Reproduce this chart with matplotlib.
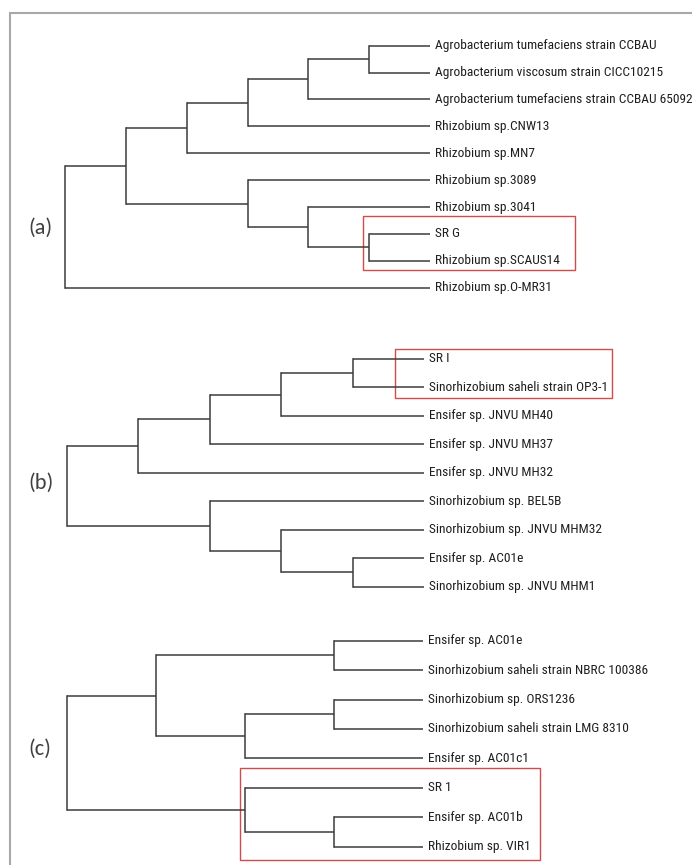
import matplotlib
matplotlib.use("Agg")
import matplotlib.pyplot as plt
from matplotlib import font_manager
from matplotlib.patches import Rectangle
from matplotlib.textpath import TextPath
import matplotlib.transforms as mtransforms

# leaf names, top to bottom
leaves_a = ['Agrobacterium tumefaciens strain CCBAU',
            'Agrobacterium viscosum strain CICC10215',
            'Agrobacterium tumefaciens strain CCBAU 65092',
            'Rhizobium sp.CNW13',
            'Rhizobium sp.MN7',
            'Rhizobium sp.3089',
            'Rhizobium sp.3041',
            'SR G',
            'Rhizobium sp.SCAUS14',
            'Rhizobium sp.O-MR31']
leaves_b = ['SR I',
            'Sinorhizobium saheli strain OP3-1',
            'Ensifer sp. JNVU MH40',
            'Ensifer sp. JNVU MH37',
            'Ensifer sp. JNVU MH32',
            'Sinorhizobium sp. BEL5B',
            'Sinorhizobium sp. JNVU MHM32',
            'Ensifer sp. AC01e',
            'Sinorhizobium sp. JNVU MHM1']
leaves_c = ['Ensifer sp. AC01e',
            'Sinorhizobium saheli strain NBRC 100386',
            'Sinorhizobium sp. ORS1236',
            'Sinorhizobium saheli strain LMG 8310',
            'Ensifer sp. AC01c1',
            'SR 1',
            'Ensifer sp. AC01b',
            'Rhizobium sp. VIR1']

# internal nodes: (node level, [children]); ints are leaf indices
tree_a = (0, [(1, [(2, [(3, [(4, [(5, [0, 1]), 2]), 3]), 4]),
                   (3, [5, (4, [6, (5, [7, 8])])])]), 9])
tree_b = (0, [(1, [(2, [(3, [(4, [0, 1]), 2]), 3]), 4]),
              (2, [5, (3, [6, (4, [7, 8])])])])
tree_c = (0, [(1, [(3, [0, 1]), (2, [(3, [2, 3]), 4])]),
              (2, [5, (3, [6, 7])])])
leaf_level = [6, 5, 4]

# highlighted boxes (x0, x1 in levels; y0, y1 in leaf rows)
box_a = [4.9, 8.38, 6.33, 8.36]
box_b = [4.6, 7.63, -0.36, 1.36]
box_c = [1.94, 5.31, 4.34, 7.45]
panel_tags = ['(a)', '(b)', '(c)']

W, H = 692, 865
# pixel layout per panel: root x, leaf x, first row y, last row y
layout = [(65, 430, 45.7, 287.7),
          (67, 424, 359.0, 586.7),
          (67, 423, 640.7, 846.7)]
tag_pos = [(40, 228), (40.6, 483), (39.7, 749)]

# the original uses a narrow Arial: a long name is ~218 px wide, caps ~10 px tall
PROBE = 'Sinorhizobium saheli strain NBRC 100386'
TARGET_W, TARGET_CAP = 218.0, 10.0

fig = plt.figure(figsize=(W / 100, H / 100), dpi=100)
fig.patch.set_facecolor('white')
renderer = fig.canvas.get_renderer()

sans = {'Liberation Sans Narrow', 'Arial Narrow', 'Roboto Condensed', 'Noto Sans',
        'Open Sans', 'Roboto', 'DejaVu Sans', 'Liberation Sans', 'Lato', 'Inter'}
best = None
for f in font_manager.fontManager.ttflist:
    if f.name not in sans or f.style != 'normal' or f.weight not in (400, 'normal', 'regular'):
        continue
    try:
        prop = font_manager.FontProperties(fname=f.fname, size=10)
        t = fig.text(0, 0, PROBE, fontproperties=prop)
        w = t.get_window_extent(renderer).width
        t.remove()
        size = 10 * TARGET_W / w
        cap = TextPath((0, 0), 'H', prop=font_manager.FontProperties(fname=f.fname, size=size)) \
            .get_extents().height * 100 / 72
    except Exception:
        continue
    score = abs(cap - TARGET_CAP)
    if best is None or score < best[0]:
        best = (score, f.fname, size)

if best is not None:
    leaf_prop = font_manager.FontProperties(fname=best[1], size=best[2])
else:
    leaf_prop = font_manager.FontProperties(family='Liberation Sans', size=8.4)

names = {f.name for f in font_manager.fontManager.ttflist}
tag_font = 'Carlito' if 'Carlito' in names else 'Lato'

LINE = '#3c3c3c'

# outer frame (top and left only are visible)
frame = fig.add_axes([0, 0, 1, 1])
frame.set_xlim(0, W)
frame.set_ylim(H, 0)
frame.axis('off')
frame.plot([9, W], [12.5, 12.5], color='#a8a8a8', lw=1.5, solid_capstyle='butt')
frame.plot([10, 10], [12.5, H], color='#a8a8a8', lw=1.5, solid_capstyle='butt')


def draw(ax, node, parent_x, L):
    if isinstance(node, int):
        ax.plot([parent_x, L], [node, node], color=LINE, lw=1.1, solid_capstyle='butt')
        return node
    lvl, kids = node
    ys = [draw(ax, k, lvl, L) for k in kids]
    ax.plot([lvl, lvl], [min(ys), max(ys)], color=LINE, lw=1.1, solid_capstyle='projecting')
    y = (min(ys) + max(ys)) / 2
    if parent_x is not None:
        ax.plot([parent_x, lvl], [y, y], color=LINE, lw=1.1, solid_capstyle='butt')
    return y


trees = [tree_a, tree_b, tree_c]
leaf_sets = [leaves_a, leaves_b, leaves_c]
boxes = [box_a, box_b, box_c]

for i in range(3):
    L = leaf_level[i]
    leaves = leaf_sets[i]
    rx, lx, y0, y1 = layout[i]
    sx = (lx - rx) / L
    sy = (y1 - y0) / (len(leaves) - 1)
    ax = fig.add_axes([0, 0, 1, 1])
    ax.patch.set_alpha(0)
    ax.axis('off')
    ax.set_xlim(-rx / sx, (W - rx) / sx)
    ax.set_ylim((H - y0) / sy, -y0 / sy)

    draw(ax, trees[i], None, L)

    shift = mtransforms.offset_copy(ax.transData, fig=fig, x=5, y=0, units='dots')
    for j, name in enumerate(leaves):
        ax.text(L, j, name, transform=shift, ha='left', va='center',
                fontproperties=leaf_prop, color='#1e1e1e')

    bx0, bx1, by0, by1 = boxes[i]
    ax.add_patch(Rectangle((bx0, by0), bx1 - bx0, by1 - by0, fill=False,
                           edgecolor='#d24b4b', lw=1.0))

    tx, ty = tag_pos[i]
    fig.text(tx / W, 1 - ty / H, panel_tags[i], ha='center', va='center',
             fontsize=16, family=tag_font, color='#404040')

fig.savefig('out.png', dpi=100, facecolor='white')
